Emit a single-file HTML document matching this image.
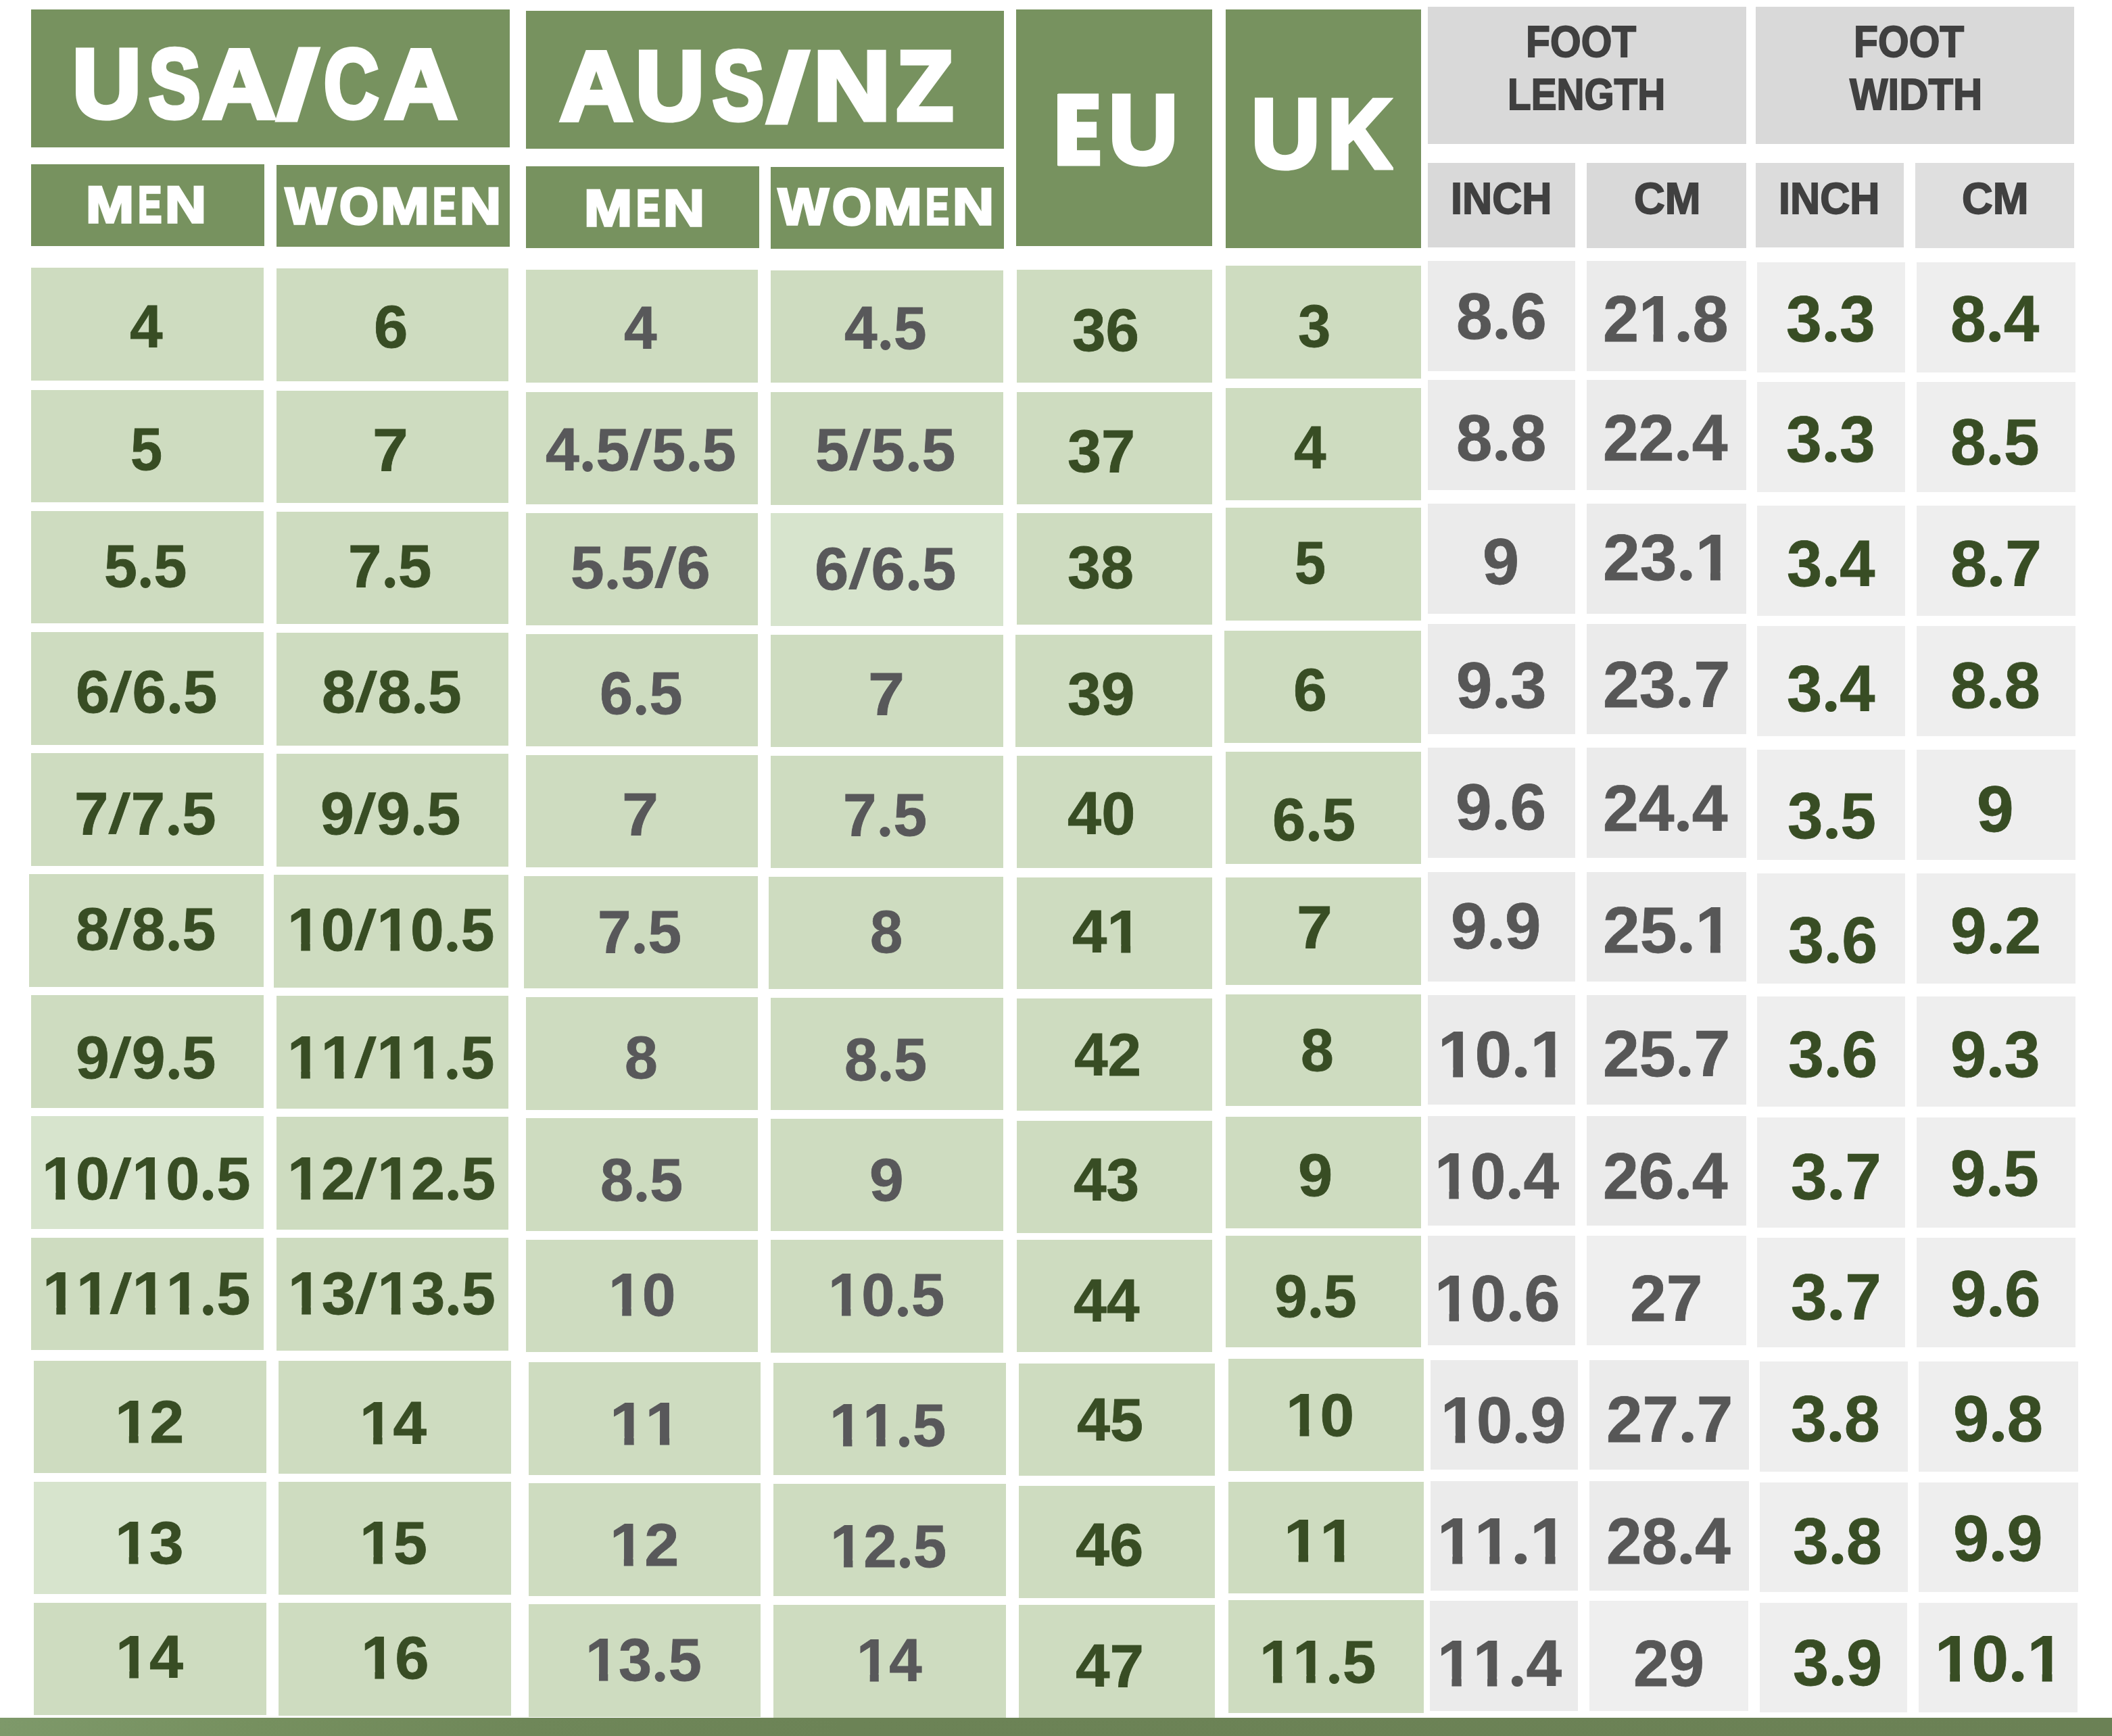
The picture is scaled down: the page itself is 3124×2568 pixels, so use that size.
<!DOCTYPE html>
<html><head><meta charset="utf-8"><title>Shoe Size Chart</title>
<style>
html,body{margin:0;padding:0;background:#fff;}
body{width:3124px;height:2568px;position:relative;overflow:hidden;font-family:"Liberation Sans",sans-serif;font-weight:bold;}
.c{position:absolute;}
.t{position:absolute;white-space:nowrap;line-height:1;transform-origin:0 0;font-kerning:none;}
.o{display:inline-block;clip-path:polygon(0 0,100% 0,100% 0.70em,0.377em 0.70em,0.377em 100%,0.227em 100%,0.227em 0.70em,0 0.70em);}
.d{display:inline-block;position:relative;-webkit-text-fill-color:transparent;-webkit-text-stroke:0 transparent;}
.d::before{content:"";position:absolute;left:0.053em;top:0.687em;width:0.172em;height:0.172em;border-radius:50%;background:currentColor;}
.s{display:inline-block;margin:0 0.045em;transform-origin:50% 0.8665em;transform:translate(-0.05em,-0.02em) skewX(-8deg) scaleY(0.927);}
.bar{position:absolute;left:0;top:2541px;width:3124px;height:27px;background:linear-gradient(90deg,#7e996a 0%,#76905f 12%,#6f8759 25%,#6c8356 40%,#6b8155 100%);}
</style></head><body>
<div class="c h" style="left:46px;top:14px;width:708px;height:204px;background:#77925f"><span class="t" style="left:60.74px;top:38.03px;font-size:144.2px;color:#fff;transform:scaleX(0.9778);-webkit-text-stroke:7px #fff;">U</span><span class="t" style="left:174.06px;top:38.03px;font-size:144.2px;color:#fff;transform:scaleX(0.7962);-webkit-text-stroke:7px #fff;">S</span><span class="t" style="left:253.66px;top:38.03px;font-size:144.2px;color:#fff;transform:scaleX(1.0371);-webkit-text-stroke:7px #fff;">A</span><span class="t" style="left:360.8px;top:40.2px;font-size:100px;color:#fff;transform:scale(2.4039,1.4403);-webkit-text-stroke:2px #fff;">/</span><span class="t" style="left:433.31px;top:38.03px;font-size:144.2px;color:#fff;transform:scaleX(0.7792);-webkit-text-stroke:7px #fff;">C</span><span class="t" style="left:522.89px;top:38.03px;font-size:144.2px;color:#fff;transform:scaleX(1.0299);-webkit-text-stroke:7px #fff;">A</span></div>
<div class="c h" style="left:778px;top:16px;width:707px;height:204px;background:#77925f"><span class="t" style="left:50.26px;top:39.2px;font-size:144.6px;color:#fff;transform:scaleX(1.0353);-webkit-text-stroke:7px #fff;">A</span><span class="t" style="left:161.74px;top:39.2px;font-size:144.6px;color:#fff;transform:scaleX(0.9751);-webkit-text-stroke:7px #fff;">U</span><span class="t" style="left:276.07px;top:39.2px;font-size:144.6px;color:#fff;transform:scaleX(0.7905);-webkit-text-stroke:7px #fff;">S</span><span class="t" style="left:354.2px;top:40.94px;font-size:100px;color:#fff;transform:scale(2.4039,1.4456);-webkit-text-stroke:2px #fff;">/</span><span class="t" style="left:425.1px;top:39.2px;font-size:144.6px;color:#fff;transform:scaleX(1.0959);-webkit-text-stroke:7px #fff;">N</span><span class="t" style="left:548.17px;top:39.2px;font-size:144.6px;color:#fff;transform:scaleX(0.9525);-webkit-text-stroke:7px #fff;">Z</span></div>
<div class="c h" style="left:1503px;top:14px;width:290px;height:350px;background:#77925f"><i style="position:absolute;left:61.0px;top:125.0px;width:29px;height:106.2px;background:#fff"></i><span class="t" style="left:57.65px;top:105.63px;font-size:144.2px;color:#fff;transform:scaleX(0.7034);-webkit-text-stroke:7px #fff;">E</span><span class="t" style="left:137.11px;top:105.63px;font-size:144.2px;color:#fff;transform:scaleX(0.9813);-webkit-text-stroke:7px #fff;">U</span></div>
<div class="c h" style="left:1813px;top:14px;width:289px;height:353px;background:#77925f"><span class="t" style="left:37.88px;top:111.63px;font-size:144.2px;color:#fff;transform:scaleX(0.9732);-webkit-text-stroke:7px #fff;">U</span><span class="t" style="left:150.51px;top:111.63px;font-size:144.2px;color:#fff;transform:scaleX(0.9031);-webkit-text-stroke:7px #fff;">K</span></div>
<div class="c h" style="left:46px;top:243px;width:345px;height:121px;background:#77925f"><span class="t" style="left:81.48px;top:22.12px;font-size:76px;color:#fff;transform:scaleX(1.1243);-webkit-text-stroke:3.5px #fff;">M</span><span class="t" style="left:158.17px;top:22.12px;font-size:76px;color:#fff;transform:scaleX(0.6978);-webkit-text-stroke:3.5px #fff;">E</span><span class="t" style="left:198.15px;top:22.12px;font-size:76px;color:#fff;transform:scaleX(1.1109);-webkit-text-stroke:3.5px #fff;">N</span></div>
<div class="c h" style="left:409px;top:244px;width:345px;height:121px;background:#77925f"><span class="t" style="left:13.35px;top:22.95px;font-size:76.2px;color:#fff;transform:scaleX(1.0359);-webkit-text-stroke:3.5px #fff;">W</span><span class="t" style="left:92.88px;top:22.95px;font-size:76.2px;color:#fff;transform:scaleX(0.9743);-webkit-text-stroke:3.5px #fff;">O</span><span class="t" style="left:153.62px;top:22.95px;font-size:76.2px;color:#fff;transform:scaleX(1.1327);-webkit-text-stroke:3.5px #fff;">M</span><span class="t" style="left:231.22px;top:22.95px;font-size:76.2px;color:#fff;transform:scaleX(0.6866);-webkit-text-stroke:3.5px #fff;">E</span><span class="t" style="left:271.34px;top:22.95px;font-size:76.2px;color:#fff;transform:scaleX(1.1102);-webkit-text-stroke:3.5px #fff;">N</span></div>
<div class="c h" style="left:778px;top:246px;width:345px;height:121px;background:#77925f"><span class="t" style="left:86.08px;top:24.95px;font-size:75.6px;color:#fff;transform:scaleX(1.1303);-webkit-text-stroke:3.5px #fff;">M</span><span class="t" style="left:162.77px;top:24.95px;font-size:75.6px;color:#fff;transform:scaleX(0.7015);-webkit-text-stroke:3.5px #fff;">E</span><span class="t" style="left:202.75px;top:24.95px;font-size:75.6px;color:#fff;transform:scaleX(1.1167);-webkit-text-stroke:3.5px #fff;">N</span></div>
<div class="c h" style="left:1140px;top:247px;width:345px;height:121px;background:#77925f"><span class="t" style="left:11.45px;top:22.05px;font-size:75.6px;color:#fff;transform:scaleX(1.0441);-webkit-text-stroke:3.5px #fff;">W</span><span class="t" style="left:90.98px;top:22.05px;font-size:75.6px;color:#fff;transform:scaleX(0.9821);-webkit-text-stroke:3.5px #fff;">O</span><span class="t" style="left:151.72px;top:22.05px;font-size:75.6px;color:#fff;transform:scaleX(1.1416);-webkit-text-stroke:3.5px #fff;">M</span><span class="t" style="left:229.32px;top:22.05px;font-size:75.6px;color:#fff;transform:scaleX(0.6921);-webkit-text-stroke:3.5px #fff;">E</span><span class="t" style="left:269.44px;top:22.05px;font-size:75.6px;color:#fff;transform:scaleX(1.1190);-webkit-text-stroke:3.5px #fff;">N</span></div>
<div class="c h" style="left:2112px;top:10px;width:471px;height:203px;background:#d9d9d9"><span class="t" style="left:144.93px;top:19.28px;font-size:65.7px;color:#404040;transform:scaleX(0.8949);-webkit-text-stroke:1.8px #404040;">FOOT</span> <span class="t" style="left:118.37px;top:98.12px;font-size:64px;color:#404040;transform:scaleX(0.8865);-webkit-text-stroke:1.8px #404040;">LENGTH</span></div>
<div class="c h" style="left:2597px;top:10px;width:471px;height:203px;background:#d9d9d9"><span class="t" style="left:144.73px;top:19.28px;font-size:65.7px;color:#404040;transform:scaleX(0.8949);-webkit-text-stroke:1.8px #404040;">FOOT</span> <span class="t" style="left:138.95px;top:98.12px;font-size:64px;color:#404040;transform:scaleX(0.9359);-webkit-text-stroke:1.8px #404040;">WIDTH</span></div>
<div class="c h" style="left:2112px;top:241px;width:218px;height:125px;background:#d9d9d9"><span class="t" style="left:34.27px;top:19.68px;font-size:65px;color:#404040;transform:scaleX(0.9405);-webkit-text-stroke:1.8px #404040;">INCH</span></div>
<div class="c h" style="left:2347px;top:241px;width:236px;height:126px;background:#d9d9d9"><span class="t" style="left:69.86px;top:19.68px;font-size:65px;color:#404040;transform:scaleX(0.9759);-webkit-text-stroke:1.8px #404040;">CM</span></div>
<div class="c h" style="left:2597px;top:241px;width:219px;height:125px;background:#dcdcdc"><span class="t" style="left:34.07px;top:19.68px;font-size:65px;color:#404040;transform:scaleX(0.9405);-webkit-text-stroke:1.8px #404040;">INCH</span></div>
<div class="c h" style="left:2833px;top:241px;width:235px;height:126px;background:#dfdfdf"><span class="t" style="left:68.76px;top:19.68px;font-size:65px;color:#404040;transform:scaleX(0.9759);-webkit-text-stroke:1.8px #404040;">CM</span></div>
<div class="c" style="left:46px;top:396px;width:344px;height:167px;background:#cedcc0"><span class="t" style="left:145.59px;top:43.68px;font-size:88.5px;color:#384d24;transform:scaleX(0.9863);-webkit-text-stroke:0.8px #384d24;">4</span></div>
<div class="c" style="left:46px;top:577px;width:344px;height:166px;background:#cedcc0"><span class="t" style="left:146.86px;top:43.68px;font-size:88.5px;color:#384d24;transform:scaleX(0.9585);-webkit-text-stroke:0.8px #384d24;">5</span></div>
<div class="c" style="left:46px;top:756px;width:344px;height:166px;background:#cedcc0"><span class="t" style="left:108.26px;top:37.68px;font-size:88.5px;color:#384d24;transform:scaleX(0.9946);-webkit-text-stroke:0.8px #384d24;">5<span class="d">.</span>5</span></div>
<div class="c" style="left:46px;top:935px;width:344px;height:167px;background:#cedcc0"><span class="t" style="left:65.51px;top:44.68px;font-size:88.5px;color:#384d24;transform:scaleX(1.0214);-webkit-text-stroke:0.8px #384d24;">6<span class="s">/</span>6<span class="d">.</span>5</span></div>
<div class="c" style="left:46px;top:1114px;width:344px;height:167px;background:#cedcc0"><span class="t" style="left:63.55px;top:45.68px;font-size:88.5px;color:#384d24;transform:scaleX(1.0236);-webkit-text-stroke:0.8px #384d24;">7<span class="s">/</span>7<span class="d">.</span>5</span></div>
<div class="c" style="left:43px;top:1293px;width:347px;height:167px;background:#cedcc0"><span class="t" style="left:68.99px;top:37.68px;font-size:88.5px;color:#384d24;transform:scaleX(1.0116);-webkit-text-stroke:0.8px #384d24;">8<span class="s">/</span>8<span class="d">.</span>5</span></div>
<div class="c" style="left:46px;top:1472px;width:344px;height:167px;background:#cedcc0"><span class="t" style="left:65.76px;top:48.68px;font-size:88.5px;color:#384d24;transform:scaleX(1.0127);-webkit-text-stroke:0.8px #384d24;">9<span class="s">/</span>9<span class="d">.</span>5</span></div>
<div class="c" style="left:46px;top:1651px;width:344px;height:167px;background:#d7e4cd"><span class="t" style="left:16.27px;top:48.68px;font-size:88.5px;color:#384d24;transform:scaleX(1.0170);-webkit-text-stroke:0.8px #384d24;"><span class="o">1</span>0<span class="s">/</span><span class="o">1</span>0<span class="d">.</span>5</span></div>
<div class="c" style="left:46px;top:1831px;width:344px;height:166px;background:#cedcc0"><span class="t" style="left:17.29px;top:38.68px;font-size:88.5px;color:#384d24;transform:scaleX(1.0136);-webkit-text-stroke:0.8px #384d24;"><span class="o">1</span><span class="o">1</span><span class="s">/</span><span class="o">1</span><span class="o">1</span><span class="d">.</span>5</span></div>
<div class="c" style="left:50px;top:2013px;width:344px;height:166px;background:#cedcc0"><span class="t" style="left:119.66px;top:46.68px;font-size:88.5px;color:#384d24;transform:scaleX(1.0385);-webkit-text-stroke:0.8px #384d24;"><span class="o">1</span>2</span></div>
<div class="c" style="left:50px;top:2192px;width:344px;height:166px;background:#d7e4cd"><span class="t" style="left:119.68px;top:46.68px;font-size:88.5px;color:#384d24;transform:scaleX(1.0333);-webkit-text-stroke:0.8px #384d24;"><span class="o">1</span>3</span></div>
<div class="c" style="left:50px;top:2371px;width:344px;height:166px;background:#cedcc0"><span class="t" style="left:120.79px;top:37.18px;font-size:88.5px;color:#384d24;transform:scaleX(1.0145);-webkit-text-stroke:0.8px #384d24;"><span class="o">1</span>4</span></div>
<div class="c" style="left:409px;top:397px;width:343px;height:167px;background:#cedcc0"><span class="t" style="left:144px;top:43.18px;font-size:88.5px;color:#384d24;transform:scaleX(1.0234);-webkit-text-stroke:0.8px #384d24;">6</span></div>
<div class="c" style="left:409px;top:578px;width:343px;height:166px;background:#cedcc0"><span class="t" style="left:142.36px;top:43.68px;font-size:88.5px;color:#384d24;transform:scaleX(1.0746);-webkit-text-stroke:0.8px #384d24;">7</span></div>
<div class="c" style="left:409px;top:757px;width:343px;height:166px;background:#cedcc0"><span class="t" style="left:106.12px;top:36.68px;font-size:88.5px;color:#384d24;transform:scaleX(1.0040);-webkit-text-stroke:0.8px #384d24;">7<span class="d">.</span>5</span></div>
<div class="c" style="left:409px;top:936px;width:343px;height:167px;background:#cedcc0"><span class="t" style="left:67px;top:43.68px;font-size:88.5px;color:#384d24;transform:scaleX(1.0091);-webkit-text-stroke:0.8px #384d24;">8<span class="s">/</span>8<span class="d">.</span>5</span></div>
<div class="c" style="left:409px;top:1115px;width:343px;height:167px;background:#cedcc0"><span class="t" style="left:64.76px;top:44.68px;font-size:88.5px;color:#384d24;transform:scaleX(1.0127);-webkit-text-stroke:0.8px #384d24;">9<span class="s">/</span>9<span class="d">.</span>5</span></div>
<div class="c" style="left:405px;top:1294px;width:347px;height:167px;background:#cedcc0"><span class="t" style="left:19.81px;top:38.18px;font-size:88.5px;color:#384d24;transform:scaleX(1.0102);-webkit-text-stroke:0.8px #384d24;"><span class="o">1</span>0<span class="s">/</span><span class="o">1</span>0<span class="d">.</span>5</span></div>
<div class="c" style="left:409px;top:1473px;width:343px;height:167px;background:#cedcc0"><span class="t" style="left:15.81px;top:47.68px;font-size:88.5px;color:#384d24;transform:scaleX(1.0102);-webkit-text-stroke:0.8px #384d24;"><span class="o">1</span><span class="o">1</span><span class="s">/</span><span class="o">1</span><span class="o">1</span><span class="d">.</span>5</span></div>
<div class="c" style="left:409px;top:1652px;width:343px;height:167px;background:#cedcc0"><span class="t" style="left:15.78px;top:47.68px;font-size:88.5px;color:#384d24;transform:scaleX(1.0153);-webkit-text-stroke:0.8px #384d24;"><span class="o">1</span>2<span class="s">/</span><span class="o">1</span>2<span class="d">.</span>5</span></div>
<div class="c" style="left:409px;top:1831px;width:343px;height:167px;background:#cedcc0"><span class="t" style="left:16.8px;top:38.68px;font-size:88.5px;color:#384d24;transform:scaleX(1.0119);-webkit-text-stroke:0.8px #384d24;"><span class="o">1</span>3<span class="s">/</span><span class="o">1</span>3<span class="d">.</span>5</span></div>
<div class="c" style="left:412px;top:2013px;width:344px;height:167px;background:#cedcc0"><span class="t" style="left:120.35px;top:48.68px;font-size:88.5px;color:#384d24;transform:scaleX(1.0036);-webkit-text-stroke:0.8px #384d24;"><span class="o">1</span>4</span></div>
<div class="c" style="left:412px;top:2192px;width:344px;height:167px;background:#cedcc0"><span class="t" style="left:120.29px;top:46.68px;font-size:88.5px;color:#384d24;transform:scaleX(1.0147);-webkit-text-stroke:0.8px #384d24;"><span class="o">1</span>5</span></div>
<div class="c" style="left:412px;top:2371px;width:344px;height:167px;background:#cedcc0"><span class="t" style="left:121.75px;top:37.68px;font-size:88.5px;color:#384d24;transform:scaleX(1.0222);-webkit-text-stroke:0.8px #384d24;"><span class="o">1</span>6</span></div>
<div class="c" style="left:778px;top:399px;width:343px;height:167px;background:#cedcc0"><span class="t" style="left:145.09px;top:42.68px;font-size:88.5px;color:#58585a;transform:scaleX(0.9863);-webkit-text-stroke:0.8px #58585a;">4</span></div>
<div class="c" style="left:778px;top:580px;width:343px;height:166px;background:#cedcc0"><span class="t" style="left:28.56px;top:41.68px;font-size:88.5px;color:#58585a;transform:scaleX(1.0107);-webkit-text-stroke:0.8px #58585a;">4<span class="d">.</span>5<span class="s">/</span>5<span class="d">.</span>5</span></div>
<div class="c" style="left:778px;top:759px;width:343px;height:166px;background:#cedcc0"><span class="t" style="left:65.72px;top:37.18px;font-size:88.5px;color:#58585a;transform:scaleX(1.0088);-webkit-text-stroke:0.8px #58585a;">5<span class="d">.</span>5<span class="s">/</span>6</span></div>
<div class="c" style="left:778px;top:938px;width:343px;height:166px;background:#cedcc0"><span class="t" style="left:109.09px;top:44.18px;font-size:88.5px;color:#58585a;transform:scaleX(0.9959);-webkit-text-stroke:0.8px #58585a;">6<span class="d">.</span>5</span></div>
<div class="c" style="left:778px;top:1117px;width:343px;height:166px;background:#cedcc0"><span class="t" style="left:142.27px;top:43.68px;font-size:88.5px;color:#58585a;transform:scaleX(1.0987);-webkit-text-stroke:0.8px #58585a;">7</span></div>
<div class="c" style="left:775px;top:1296px;width:346px;height:166px;background:#cedcc0"><span class="t" style="left:109.11px;top:38.68px;font-size:88.5px;color:#58585a;transform:scaleX(1.0083);-webkit-text-stroke:0.8px #58585a;">7<span class="d">.</span>5</span></div>
<div class="c" style="left:778px;top:1475px;width:343px;height:167px;background:#cedcc0"><span class="t" style="left:145.55px;top:46.18px;font-size:88.5px;color:#58585a;transform:scaleX(0.9911);-webkit-text-stroke:0.8px #58585a;">8</span></div>
<div class="c" style="left:778px;top:1654px;width:343px;height:167px;background:#cedcc0"><span class="t" style="left:109.55px;top:48.18px;font-size:88.5px;color:#58585a;transform:scaleX(0.9922);-webkit-text-stroke:0.8px #58585a;">8<span class="d">.</span>5</span></div>
<div class="c" style="left:778px;top:1834px;width:343px;height:166px;background:#cedcc0"><span class="t" style="left:121.81px;top:37.68px;font-size:88.5px;color:#58585a;transform:scaleX(1.0104);-webkit-text-stroke:0.8px #58585a;"><span class="o">1</span>0</span></div>
<div class="c" style="left:782px;top:2015px;width:343px;height:167px;background:#cedcc0"><span class="t" style="left:119.99px;top:48.18px;font-size:88.5px;color:#58585a;transform:scaleX(1.0676);-webkit-text-stroke:0.8px #58585a;"><span class="o">1</span><span class="o">1</span></span></div>
<div class="c" style="left:782px;top:2194px;width:343px;height:167px;background:#cedcc0"><span class="t" style="left:120.16px;top:48.18px;font-size:88.5px;color:#58585a;transform:scaleX(1.0385);-webkit-text-stroke:0.8px #58585a;"><span class="o">1</span>2</span></div>
<div class="c" style="left:782px;top:2373px;width:343px;height:167px;background:#cedcc0"><span class="t" style="left:84.39px;top:39.18px;font-size:88.5px;color:#58585a;transform:scaleX(0.9970);-webkit-text-stroke:0.8px #58585a;"><span class="o">1</span>3<span class="d">.</span>5</span></div>
<div class="c" style="left:1140px;top:400px;width:344px;height:166px;background:#cedcc0"><span class="t" style="left:109.09px;top:42.18px;font-size:88.5px;color:#58585a;transform:scaleX(0.9877);-webkit-text-stroke:0.8px #58585a;">4<span class="d">.</span>5</span></div>
<div class="c" style="left:1140px;top:580px;width:344px;height:167px;background:#cedcc0"><span class="t" style="left:66.21px;top:42.18px;font-size:88.5px;color:#58585a;transform:scaleX(1.0129);-webkit-text-stroke:0.8px #58585a;">5<span class="s">/</span>5<span class="d">.</span>5</span></div>
<div class="c" style="left:1140px;top:759px;width:344px;height:167px;background:#d7e4cd"><span class="t" style="left:64.51px;top:38.68px;font-size:88.5px;color:#58585a;transform:scaleX(1.0214);-webkit-text-stroke:0.8px #58585a;">6<span class="s">/</span>6<span class="d">.</span>5</span></div>
<div class="c" style="left:1140px;top:939px;width:344px;height:166px;background:#cedcc0"><span class="t" style="left:144.27px;top:44.18px;font-size:88.5px;color:#58585a;transform:scaleX(1.0987);-webkit-text-stroke:0.8px #58585a;">7</span></div>
<div class="c" style="left:1140px;top:1118px;width:344px;height:166px;background:#cedcc0"><span class="t" style="left:106.61px;top:44.18px;font-size:88.5px;color:#58585a;transform:scaleX(1.0083);-webkit-text-stroke:0.8px #58585a;">7<span class="d">.</span>5</span></div>
<div class="c" style="left:1137px;top:1297px;width:347px;height:166px;background:#cedcc0"><span class="t" style="left:149.58px;top:37.68px;font-size:88.5px;color:#58585a;transform:scaleX(0.9797);-webkit-text-stroke:0.8px #58585a;">8</span></div>
<div class="c" style="left:1140px;top:1476px;width:344px;height:166px;background:#cedcc0"><span class="t" style="left:108.55px;top:47.68px;font-size:88.5px;color:#58585a;transform:scaleX(0.9922);-webkit-text-stroke:0.8px #58585a;">8<span class="d">.</span>5</span></div>
<div class="c" style="left:1140px;top:1655px;width:344px;height:166px;background:#cedcc0"><span class="t" style="left:146.21px;top:47.18px;font-size:88.5px;color:#58585a;transform:scaleX(1.0298);-webkit-text-stroke:0.8px #58585a;">9</span></div>
<div class="c" style="left:1140px;top:1834px;width:344px;height:167px;background:#cedcc0"><span class="t" style="left:84.87px;top:38.18px;font-size:88.5px;color:#58585a;transform:scaleX(1.0001);-webkit-text-stroke:0.8px #58585a;"><span class="o">1</span>0<span class="d">.</span>5</span></div>
<div class="c" style="left:1144px;top:2016px;width:344px;height:166px;background:#cedcc0"><span class="t" style="left:83.37px;top:48.68px;font-size:88.5px;color:#58585a;transform:scaleX(1.0001);-webkit-text-stroke:0.8px #58585a;"><span class="o">1</span><span class="o">1</span><span class="d">.</span>5</span></div>
<div class="c" style="left:1144px;top:2195px;width:344px;height:166px;background:#cedcc0"><span class="t" style="left:84.37px;top:48.68px;font-size:88.5px;color:#58585a;transform:scaleX(1.0001);-webkit-text-stroke:0.8px #58585a;"><span class="o">1</span>2<span class="d">.</span>5</span></div>
<div class="c" style="left:1144px;top:2374px;width:344px;height:167px;background:#cedcc0"><span class="t" style="left:122.97px;top:39.18px;font-size:88.5px;color:#58585a;transform:scaleX(0.9820);-webkit-text-stroke:0.8px #58585a;"><span class="o">1</span>4</span></div>
<div class="c" style="left:1504px;top:399px;width:289px;height:167px;background:#cedcc0"><span class="t" style="left:81.9px;top:46.38px;font-size:88.5px;color:#384d24;transform:scaleX(1.0048);-webkit-text-stroke:0.8px #384d24;">36</span></div>
<div class="c" style="left:1504px;top:580px;width:289px;height:166px;background:#cedcc0"><span class="t" style="left:75.37px;top:43.68px;font-size:88.5px;color:#384d24;transform:scaleX(1.0174);-webkit-text-stroke:0.8px #384d24;">37</span></div>
<div class="c" style="left:1504px;top:759px;width:289px;height:165px;background:#cedcc0"><span class="t" style="left:75.42px;top:36.88px;font-size:88.5px;color:#384d24;transform:scaleX(0.9947);-webkit-text-stroke:0.8px #384d24;">38</span></div>
<div class="c" style="left:1502px;top:939px;width:291px;height:166px;background:#cedcc0"><span class="t" style="left:77.39px;top:43.68px;font-size:88.5px;color:#384d24;transform:scaleX(1.0102);-webkit-text-stroke:0.8px #384d24;">39</span></div>
<div class="c" style="left:1504px;top:1118px;width:289px;height:166px;background:#cedcc0"><span class="t" style="left:75.05px;top:41.68px;font-size:88.5px;color:#384d24;transform:scaleX(1.0185);-webkit-text-stroke:0.8px #384d24;">40</span></div>
<div class="c" style="left:1504px;top:1298px;width:289px;height:165px;background:#cedcc0"><span class="t" style="left:82.02px;top:37.18px;font-size:88.5px;color:#384d24;transform:scaleX(1.0430);-webkit-text-stroke:0.8px #384d24;">4<span class="o">1</span></span></div>
<div class="c" style="left:1504px;top:1477px;width:289px;height:166px;background:#cedcc0"><span class="t" style="left:85.06px;top:39.98px;font-size:88.5px;color:#384d24;transform:scaleX(1.0078);-webkit-text-stroke:0.8px #384d24;">42</span></div>
<div class="c" style="left:1504px;top:1658px;width:289px;height:166px;background:#cedcc0"><span class="t" style="left:83.59px;top:44.18px;font-size:88.5px;color:#384d24;transform:scaleX(0.9871);-webkit-text-stroke:0.8px #384d24;">43</span></div>
<div class="c" style="left:1504px;top:1834px;width:289px;height:166px;background:#cedcc0"><span class="t" style="left:83.58px;top:47.18px;font-size:88.5px;color:#384d24;transform:scaleX(0.9910);-webkit-text-stroke:0.8px #384d24;">44</span></div>
<div class="c" style="left:1507px;top:2017px;width:290px;height:166px;background:#cedcc0"><span class="t" style="left:85.58px;top:40.18px;font-size:88.5px;color:#384d24;transform:scaleX(0.9960);-webkit-text-stroke:0.8px #384d24;">45</span></div>
<div class="c" style="left:1507px;top:2198px;width:290px;height:166px;background:#cedcc0"><span class="t" style="left:84.05px;top:44.18px;font-size:88.5px;color:#384d24;transform:scaleX(1.0190);-webkit-text-stroke:0.8px #384d24;">46</span></div>
<div class="c" style="left:1507px;top:2374px;width:290px;height:167px;background:#cedcc0"><span class="t" style="left:84.04px;top:46.68px;font-size:88.5px;color:#384d24;transform:scaleX(1.0263);-webkit-text-stroke:0.8px #384d24;">47</span></div>
<div class="c" style="left:1813px;top:393px;width:289px;height:167px;background:#cedcc0"><span class="t" style="left:107.45px;top:45.88px;font-size:88.5px;color:#384d24;transform:scaleX(0.9812);-webkit-text-stroke:0.8px #384d24;">3</span></div>
<div class="c" style="left:1813px;top:574px;width:289px;height:166px;background:#cedcc0"><span class="t" style="left:101.12px;top:44.68px;font-size:88.5px;color:#384d24;transform:scaleX(0.9652);-webkit-text-stroke:0.8px #384d24;">4</span></div>
<div class="c" style="left:1813px;top:751px;width:289px;height:167px;background:#cedcc0"><span class="t" style="left:101.92px;top:37.68px;font-size:88.5px;color:#384d24;transform:scaleX(0.9358);-webkit-text-stroke:0.8px #384d24;">5</span></div>
<div class="c" style="left:1811px;top:933px;width:291px;height:166px;background:#cedcc0"><span class="t" style="left:102.04px;top:43.68px;font-size:88.5px;color:#384d24;transform:scaleX(1.0117);-webkit-text-stroke:0.8px #384d24;">6</span></div>
<div class="c" style="left:1813px;top:1112px;width:289px;height:166px;background:#cedcc0"><span class="t" style="left:68.58px;top:56.68px;font-size:88.5px;color:#384d24;transform:scaleX(1.0002);-webkit-text-stroke:0.8px #384d24;">6<span class="d">.</span>5</span></div>
<div class="c" style="left:1813px;top:1298px;width:289px;height:159px;background:#cedcc0"><span class="t" style="left:105.36px;top:29.68px;font-size:88.5px;color:#384d24;transform:scaleX(1.0746);-webkit-text-stroke:0.8px #384d24;">7</span></div>
<div class="c" style="left:1813px;top:1471px;width:289px;height:165px;background:#cedcc0"><span class="t" style="left:110.55px;top:39.48px;font-size:88.5px;color:#384d24;transform:scaleX(0.9911);-webkit-text-stroke:0.8px #384d24;">8</span></div>
<div class="c" style="left:1813px;top:1652px;width:289px;height:165px;background:#cedcc0"><span class="t" style="left:107.17px;top:42.68px;font-size:88.5px;color:#384d24;transform:scaleX(1.0414);-webkit-text-stroke:0.8px #384d24;">9</span></div>
<div class="c" style="left:1813px;top:1828px;width:289px;height:165px;background:#cedcc0"><span class="t" style="left:71.83px;top:45.68px;font-size:88.5px;color:#384d24;transform:scaleX(0.9898);-webkit-text-stroke:0.8px #384d24;">9<span class="d">.</span>5</span></div>
<div class="c" style="left:1817px;top:2010px;width:289px;height:166px;background:#cedcc0"><span class="t" style="left:84.72px;top:39.68px;font-size:88.5px;color:#384d24;transform:scaleX(1.0273);-webkit-text-stroke:0.8px #384d24;"><span class="o">1</span>0</span></div>
<div class="c" style="left:1817px;top:2192px;width:289px;height:165px;background:#cedcc0"><span class="t" style="left:82.42px;top:43.68px;font-size:88.5px;color:#384d24;transform:scaleX(1.0807);-webkit-text-stroke:0.8px #384d24;"><span class="o">1</span><span class="o">1</span></span></div>
<div class="c" style="left:1817px;top:2367px;width:289px;height:167px;background:#cedcc0"><span class="t" style="left:46.37px;top:48.18px;font-size:88.5px;color:#384d24;transform:scaleX(1.0001);-webkit-text-stroke:0.8px #384d24;"><span class="o">1</span><span class="o">1</span><span class="d">.</span>5</span></div>
<div class="c" style="left:2112px;top:386px;width:218px;height:163px;background:#ebebeb"><span class="t" style="left:42.27px;top:34.37px;font-size:95.6px;color:#575757;transform:scaleX(1.0068);-webkit-text-stroke:0.8px #575757;">8<span class="d">.</span>6</span></div>
<div class="c" style="left:2112px;top:562px;width:218px;height:163px;background:#ebebeb"><span class="t" style="left:42.28px;top:38.37px;font-size:95.6px;color:#575757;transform:scaleX(1.0030);-webkit-text-stroke:0.8px #575757;">8<span class="d">.</span>8</span></div>
<div class="c" style="left:2112px;top:745px;width:218px;height:163px;background:#ebebeb"><span class="t" style="left:81.49px;top:38.37px;font-size:95.6px;color:#575757;transform:scaleX(1.0180);-webkit-text-stroke:0.8px #575757;">9</span></div>
<div class="c" style="left:2112px;top:923px;width:218px;height:163px;background:#ebebeb"><span class="t" style="left:42.04px;top:42.87px;font-size:95.6px;color:#575757;transform:scaleX(1.0048);-webkit-text-stroke:0.8px #575757;">9<span class="d">.</span>3</span></div>
<div class="c" style="left:2112px;top:1106px;width:218px;height:163px;background:#ebebeb"><span class="t" style="left:41.02px;top:40.37px;font-size:95.6px;color:#575757;transform:scaleX(1.0087);-webkit-text-stroke:0.8px #575757;">9<span class="d">.</span>6</span></div>
<div class="c" style="left:2112px;top:1290px;width:218px;height:162px;background:#ebebeb"><span class="t" style="left:34.04px;top:32.37px;font-size:95.6px;color:#575757;transform:scaleX(1.0048);-webkit-text-stroke:0.8px #575757;">9<span class="d">.</span>9</span></div>
<div class="c" style="left:2112px;top:1472px;width:218px;height:162px;background:#ebebeb"><span class="t" style="left:15.27px;top:40.37px;font-size:95.6px;color:#575757;transform:scaleX(1.0265);-webkit-text-stroke:0.8px #575757;"><span class="o">1</span>0<span class="d">.</span><span class="o">1</span></span></div>
<div class="c" style="left:2112px;top:1651px;width:218px;height:162px;background:#ebebeb"><span class="t" style="left:10.49px;top:41.37px;font-size:95.6px;color:#575757;transform:scaleX(0.9899);-webkit-text-stroke:0.8px #575757;"><span class="o">1</span>0<span class="d">.</span>4</span></div>
<div class="c" style="left:2112px;top:1828px;width:218px;height:162px;background:#ebebeb"><span class="t" style="left:10.44px;top:45.37px;font-size:95.6px;color:#575757;transform:scaleX(0.9975);-webkit-text-stroke:0.8px #575757;"><span class="o">1</span>0<span class="d">.</span>6</span></div>
<div class="c" style="left:2116px;top:2012px;width:218px;height:162px;background:#ebebeb"><span class="t" style="left:15.44px;top:41.37px;font-size:95.6px;color:#575757;transform:scaleX(0.9975);-webkit-text-stroke:0.8px #575757;"><span class="o">1</span>0<span class="d">.</span>9</span></div>
<div class="c" style="left:2116px;top:2191px;width:218px;height:162px;background:#ebebeb"><span class="t" style="left:10.23px;top:41.37px;font-size:95.6px;color:#575757;transform:scaleX(1.0327);-webkit-text-stroke:0.8px #575757;"><span class="o">1</span><span class="o">1</span><span class="d">.</span><span class="o">1</span></span></div>
<div class="c" style="left:2115px;top:2368px;width:219px;height:163px;background:#ebebeb"><span class="t" style="left:11.49px;top:45.37px;font-size:95.6px;color:#575757;transform:scaleX(0.9899);-webkit-text-stroke:0.8px #575757;"><span class="o">1</span><span class="o">1</span><span class="d">.</span>4</span></div>
<div class="c" style="left:2347px;top:386px;width:236px;height:163px;background:#ebebeb"><span class="t" style="left:24.06px;top:37.87px;font-size:95.6px;color:#575757;transform:scaleX(0.9970);-webkit-text-stroke:0.8px #575757;">2<span class="o">1</span><span class="d">.</span>8</span></div>
<div class="c" style="left:2347px;top:562px;width:236px;height:163px;background:#ebebeb"><span class="t" style="left:24.08px;top:38.37px;font-size:95.6px;color:#575757;transform:scaleX(0.9921);-webkit-text-stroke:0.8px #575757;">22<span class="d">.</span>4</span></div>
<div class="c" style="left:2347px;top:745px;width:236px;height:163px;background:#ebebeb"><span class="t" style="left:23.96px;top:32.37px;font-size:95.6px;color:#575757;transform:scaleX(1.0283);-webkit-text-stroke:0.8px #575757;">23<span class="d">.</span><span class="o">1</span></span></div>
<div class="c" style="left:2347px;top:923px;width:236px;height:163px;background:#ebebeb"><span class="t" style="left:24.01px;top:42.37px;font-size:95.6px;color:#575757;transform:scaleX(1.0120);-webkit-text-stroke:0.8px #575757;">23<span class="d">.</span>7</span></div>
<div class="c" style="left:2347px;top:1106px;width:236px;height:163px;background:#ebebeb"><span class="t" style="left:24.08px;top:41.87px;font-size:95.6px;color:#575757;transform:scaleX(0.9921);-webkit-text-stroke:0.8px #575757;">24<span class="d">.</span>4</span></div>
<div class="c" style="left:2347px;top:1290px;width:236px;height:162px;background:#ebebeb"><span class="t" style="left:23.96px;top:38.37px;font-size:95.6px;color:#575757;transform:scaleX(1.0283);-webkit-text-stroke:0.8px #575757;">25<span class="d">.</span><span class="o">1</span></span></div>
<div class="c" style="left:2347px;top:1472px;width:236px;height:162px;background:#ebebeb"><span class="t" style="left:24.01px;top:39.37px;font-size:95.6px;color:#575757;transform:scaleX(1.0120);-webkit-text-stroke:0.8px #575757;">25<span class="d">.</span>7</span></div>
<div class="c" style="left:2347px;top:1651px;width:236px;height:162px;background:#ebebeb"><span class="t" style="left:24.08px;top:41.37px;font-size:95.6px;color:#575757;transform:scaleX(0.9921);-webkit-text-stroke:0.8px #575757;">26<span class="d">.</span>4</span></div>
<div class="c" style="left:2347px;top:1828px;width:236px;height:162px;background:#efefef"><span class="t" style="left:64.02px;top:45.37px;font-size:95.6px;color:#575757;transform:scaleX(1.0089);-webkit-text-stroke:0.8px #575757;">27</span></div>
<div class="c" style="left:2351px;top:2012px;width:236px;height:162px;background:#ebebeb"><span class="t" style="left:25.03px;top:40.37px;font-size:95.6px;color:#575757;transform:scaleX(1.0064);-webkit-text-stroke:0.8px #575757;">27<span class="d">.</span>7</span></div>
<div class="c" style="left:2351px;top:2191px;width:236px;height:162px;background:#ebebeb"><span class="t" style="left:25.1px;top:41.37px;font-size:95.6px;color:#575757;transform:scaleX(0.9866);-webkit-text-stroke:0.8px #575757;">28<span class="d">.</span>4</span></div>
<div class="c" style="left:2351px;top:2368px;width:235px;height:163px;background:#efefef"><span class="t" style="left:65.1px;top:45.37px;font-size:95.6px;color:#575757;transform:scaleX(0.9866);-webkit-text-stroke:0.8px #575757;">29</span></div>
<div class="c" style="left:2599px;top:388px;width:219px;height:163px;background:#eeeeee"><span class="t" style="left:43.27px;top:36.37px;font-size:95.6px;color:#384d24;transform:scaleX(0.9914);-webkit-text-stroke:0.8px #384d24;">3<span class="d">.</span>3</span></div>
<div class="c" style="left:2599px;top:565px;width:219px;height:163px;background:#eeeeee"><span class="t" style="left:43.27px;top:37.37px;font-size:95.6px;color:#384d24;transform:scaleX(0.9914);-webkit-text-stroke:0.8px #384d24;">3<span class="d">.</span>3</span></div>
<div class="c" style="left:2599px;top:748px;width:219px;height:163px;background:#eeeeee"><span class="t" style="left:44.29px;top:38.37px;font-size:95.6px;color:#384d24;transform:scaleX(0.9811);-webkit-text-stroke:0.8px #384d24;">3<span class="d">.</span>4</span></div>
<div class="c" style="left:2599px;top:926px;width:219px;height:163px;background:#eeeeee"><span class="t" style="left:44.29px;top:45.37px;font-size:95.6px;color:#384d24;transform:scaleX(0.9811);-webkit-text-stroke:0.8px #384d24;">3<span class="d">.</span>4</span></div>
<div class="c" style="left:2599px;top:1109px;width:219px;height:163px;background:#eeeeee"><span class="t" style="left:45.28px;top:49.97px;font-size:95.6px;color:#384d24;transform:scaleX(0.9859);-webkit-text-stroke:0.8px #384d24;">3<span class="d">.</span>5</span></div>
<div class="c" style="left:2599px;top:1292px;width:219px;height:163px;background:#eeeeee"><span class="t" style="left:46.26px;top:51.37px;font-size:95.6px;color:#384d24;transform:scaleX(0.9953);-webkit-text-stroke:0.8px #384d24;">3<span class="d">.</span>6</span></div>
<div class="c" style="left:2599px;top:1474px;width:219px;height:163px;background:#eeeeee"><span class="t" style="left:46.26px;top:38.37px;font-size:95.6px;color:#384d24;transform:scaleX(0.9953);-webkit-text-stroke:0.8px #384d24;">3<span class="d">.</span>6</span></div>
<div class="c" style="left:2599px;top:1653px;width:219px;height:163px;background:#eeeeee"><span class="t" style="left:49.74px;top:40.37px;font-size:95.6px;color:#384d24;transform:scaleX(1.0049);-webkit-text-stroke:0.8px #384d24;">3<span class="d">.</span>7</span></div>
<div class="c" style="left:2599px;top:1831px;width:219px;height:162px;background:#eeeeee"><span class="t" style="left:49.74px;top:40.37px;font-size:95.6px;color:#384d24;transform:scaleX(1.0049);-webkit-text-stroke:0.8px #384d24;">3<span class="d">.</span>7</span></div>
<div class="c" style="left:2603px;top:2014px;width:219px;height:163px;background:#eeeeee"><span class="t" style="left:45.77px;top:37.37px;font-size:95.6px;color:#384d24;transform:scaleX(0.9916);-webkit-text-stroke:0.8px #384d24;">3<span class="d">.</span>8</span></div>
<div class="c" style="left:2603px;top:2193px;width:219px;height:162px;background:#eeeeee"><span class="t" style="left:49.27px;top:39.37px;font-size:95.6px;color:#384d24;transform:scaleX(0.9916);-webkit-text-stroke:0.8px #384d24;">3<span class="d">.</span>8</span></div>
<div class="c" style="left:2603px;top:2371px;width:218px;height:162px;background:#eeeeee"><span class="t" style="left:49.26px;top:41.37px;font-size:95.6px;color:#384d24;transform:scaleX(0.9953);-webkit-text-stroke:0.8px #384d24;">3<span class="d">.</span>9</span></div>
<div class="c" style="left:2835px;top:388px;width:235px;height:163px;background:#eeeeee"><span class="t" style="left:50.33px;top:36.37px;font-size:95.6px;color:#384d24;transform:scaleX(0.9883);-webkit-text-stroke:0.8px #384d24;">8<span class="d">.</span>4</span></div>
<div class="c" style="left:2835px;top:565px;width:235px;height:163px;background:#eeeeee"><span class="t" style="left:50.33px;top:41.37px;font-size:95.6px;color:#384d24;transform:scaleX(0.9893);-webkit-text-stroke:0.8px #384d24;">8<span class="d">.</span>5</span></div>
<div class="c" style="left:2835px;top:748px;width:235px;height:163px;background:#eeeeee"><span class="t" style="left:50.24px;top:37.87px;font-size:95.6px;color:#384d24;transform:scaleX(1.0166);-webkit-text-stroke:0.8px #384d24;">8<span class="d">.</span>7</span></div>
<div class="c" style="left:2835px;top:926px;width:235px;height:163px;background:#eeeeee"><span class="t" style="left:50.3px;top:39.87px;font-size:95.6px;color:#384d24;transform:scaleX(0.9991);-webkit-text-stroke:0.8px #384d24;">8<span class="d">.</span>8</span></div>
<div class="c" style="left:2835px;top:1109px;width:235px;height:163px;background:#eeeeee"><span class="t" style="left:88.96px;top:40.37px;font-size:95.6px;color:#384d24;transform:scaleX(1.0288);-webkit-text-stroke:0.8px #384d24;">9</span></div>
<div class="c" style="left:2835px;top:1292px;width:235px;height:163px;background:#eeeeee"><span class="t" style="left:50.03px;top:36.87px;font-size:95.6px;color:#384d24;transform:scaleX(1.0086);-webkit-text-stroke:0.8px #384d24;">9<span class="d">.</span>2</span></div>
<div class="c" style="left:2835px;top:1474px;width:235px;height:163px;background:#eeeeee"><span class="t" style="left:50.06px;top:38.37px;font-size:95.6px;color:#384d24;transform:scaleX(0.9968);-webkit-text-stroke:0.8px #384d24;">9<span class="d">.</span>3</span></div>
<div class="c" style="left:2835px;top:1653px;width:235px;height:163px;background:#eeeeee"><span class="t" style="left:50.11px;top:35.37px;font-size:95.6px;color:#384d24;transform:scaleX(0.9833);-webkit-text-stroke:0.8px #384d24;">9<span class="d">.</span>5</span></div>
<div class="c" style="left:2835px;top:1831px;width:235px;height:162px;background:#eeeeee"><span class="t" style="left:50.04px;top:35.37px;font-size:95.6px;color:#384d24;transform:scaleX(1.0048);-webkit-text-stroke:0.8px #384d24;">9<span class="d">.</span>6</span></div>
<div class="c" style="left:2838px;top:2014px;width:236px;height:163px;background:#eeeeee"><span class="t" style="left:51.05px;top:37.37px;font-size:95.6px;color:#384d24;transform:scaleX(1.0010);-webkit-text-stroke:0.8px #384d24;">9<span class="d">.</span>8</span></div>
<div class="c" style="left:2838px;top:2193px;width:236px;height:162px;background:#eeeeee"><span class="t" style="left:51.06px;top:35.37px;font-size:95.6px;color:#384d24;transform:scaleX(0.9968);-webkit-text-stroke:0.8px #384d24;">9<span class="d">.</span>9</span></div>
<div class="c" style="left:2838px;top:2371px;width:235px;height:162px;background:#eeeeee"><span class="t" style="left:24.27px;top:35.37px;font-size:95.6px;color:#384d24;transform:scaleX(1.0265);-webkit-text-stroke:0.8px #384d24;"><span class="o">1</span>0<span class="d">.</span><span class="o">1</span></span></div>
<div class="bar"></div>
</body></html>
